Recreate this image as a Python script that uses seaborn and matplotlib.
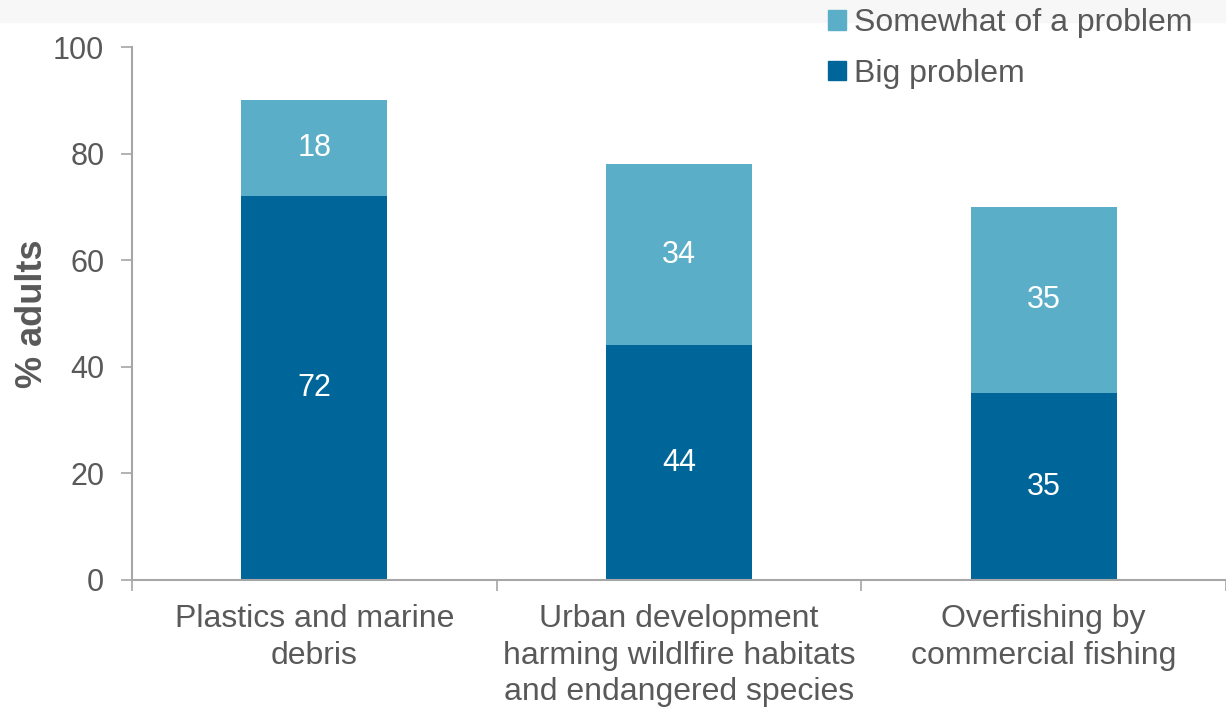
import matplotlib.pyplot as plt
import matplotlib.patches as mpatches
import pandas as pd
import seaborn as sns

categories = [
    "Plastics and marine\ndebris",
    "Urban development\nharming wildlfire habitats\nand endangered species",
    "Overfishing by\ncommercial fishing",
]
big_problem = [72, 44, 35]
somewhat_problem = [18, 34, 35]

dark_blue = "#006699"
light_blue = "#5BAEC7"
text_grey = "#595959"
axis_grey = "#A6A6A6"

sns.set_style("white")
plt.rcParams["font.family"] = ["Liberation Sans", "DejaVu Sans"]

df = pd.DataFrame({"category": categories, "big": big_problem, "somewhat": somewhat_problem})
df["total"] = df["big"] + df["somewhat"]

fig = plt.figure(figsize=(12.26, 7.08), dpi=100)
# faint grey band at the top
fig.patches.append(mpatches.Rectangle((0, 0.969), 1, 0.031, transform=fig.transFigure,
                                      color="#F7F7F7", zorder=0))
ax = fig.add_axes([0.1077, 0.1808, 0.8923, 0.7528])

sns.barplot(data=df, x="category", y="total", color=light_blue, width=0.4,
            saturation=1, linewidth=0, ax=ax)
sns.barplot(data=df, x="category", y="big", color=dark_blue, width=0.4,
            saturation=1, linewidth=0, ax=ax)

for i, row in df.iterrows():
    ax.text(i, row["big"] / 2, f"{row['big']}", ha="center", va="center",
            color="white", fontsize=22)
    ax.text(i, row["big"] + row["somewhat"] / 2, f"{row['somewhat']}", ha="center",
            va="center", color="white", fontsize=22)

ax.set_xlim(-0.5, 2.5)
ax.set_ylim(0, 100)
ax.set_yticks(range(0, 101, 20))
ax.set_xlabel("")
ax.set_ylabel("% adults", fontsize=26, fontweight="bold", color=text_grey, labelpad=2)

ax.set_xticks([-0.5, 0.5, 1.5, 2.5], minor=True)
ax.tick_params(axis="x", which="major", length=0, pad=17, labelsize=23, labelcolor=text_grey)
ax.tick_params(axis="x", which="minor", length=8, width=1.2, color=axis_grey, direction="out")
ax.tick_params(axis="y", length=8, width=1.2, color=axis_grey, direction="out",
               labelsize=22, labelcolor=text_grey, pad=12)
ax.tick_params(axis="both", bottom=True, left=True)
ax.xaxis.set_tick_params(which="minor", bottom=True)
for lbl in ax.get_xticklabels():
    lbl.set_linespacing(1.3)

for side in ["top", "right"]:
    ax.spines[side].set_visible(False)
for side in ["left", "bottom"]:
    ax.spines[side].set_color(axis_grey)
    ax.spines[side].set_linewidth(1.5)

handles = [mpatches.Patch(color=light_blue), mpatches.Patch(color=dark_blue)]
fig.legend(handles, ["Somewhat of a problem", "Big problem"],
           loc="upper left", bbox_to_anchor=(0.652, 1.029), frameon=False,
           fontsize=23, handlelength=0.55, handleheight=0.55, handletextpad=0.25,
           labelspacing=0.65, labelcolor=text_grey)

fig.savefig("out.png", dpi=100)
